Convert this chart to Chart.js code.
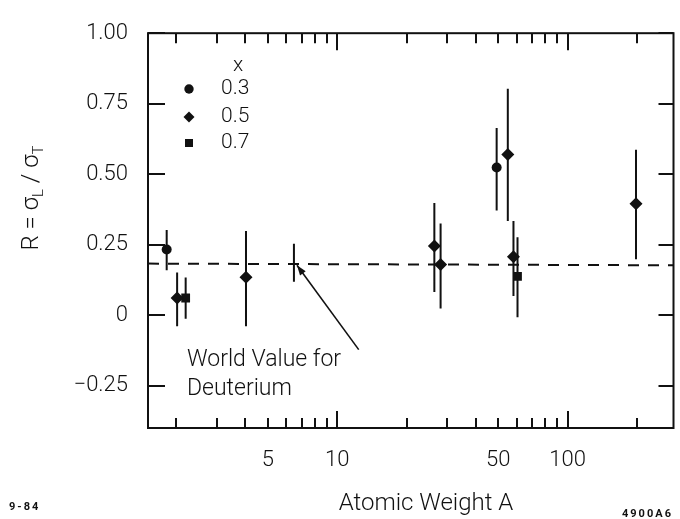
<!DOCTYPE html>
<html>
<head>
<meta charset="utf-8">
<script src="https://cdn.jsdelivr.net/npm/chart.js@4.4.1/dist/chart.umd.min.js"></script>
<style>
html, body { margin: 0; padding: 0; background: #fff; }
#wrap { width: 680px; height: 519px; }
</style>
</head>
<body>
<div id="wrap"><canvas id="chart" width="680" height="519"></canvas></div>
<script>
// R = sigma_L / sigma_T against atomic weight, one series per x bin
var a03 = [1.82, 49.2];
var r03 = [0.233, 0.524];
var lo03 = [0.159, 0.371];
var hi03 = [0.302, 0.664];

var a05 = [2.02, 4.02, 26.4, 28.1, 55.0, 58.2, 198];
var r05 = [0.061, 0.135, 0.245, 0.180, 0.570, 0.207, 0.395];
var lo05 = [-0.039, -0.039, 0.082, 0.024, 0.334, 0.068, 0.198];
var hi05 = [0.151, 0.299, 0.398, 0.325, 0.803, 0.334, 0.587];

var a07 = [2.20, 60.6];
var r07 = [0.061, 0.138];
var lo07 = [-0.013, -0.007];
var hi07 = [0.134, 0.276];

// world value for deuterium (bar + dashed level)
var worldA = [6.49];
var worldR = [0.18];
var worldLo = [0.119];
var worldHi = [0.253];
var worldLineA = [1.51, 288];
var worldLineR = [0.183, 0.177];

// arrow from the note to the world value bar
var arrowA = [12.4, 6.69];
var arrowR = [-0.122, 0.177];

var xLabelTicks = [5, 10, 50, 100];
var xMinorTicks = [2, 3, 4, 5, 6, 7, 8, 9, 20, 30, 40, 50, 60, 70, 80, 90, 200];
var xMajorTicks = [10, 100];
var yTicks = [-0.25, 0, 0.25, 0.5, 0.75, 1.0];
var yTickLabels = ['\u22120.25', '0', '0.25', '0.50', '0.75', '1.00'];
var legendLabels = ['0.3', '0.5', '0.7'];

var ink = '#111';
var fam = 'Roboto, "Liberation Sans", sans-serif';

function pts(xs, ys) {
	return xs.map(function(x, i){ return {x: x, y: ys[i]}; });
}

var frame = {
	id: 'frame',
	beforeDatasetsDraw: function(chart) {
		var ctx = chart.ctx, a = chart.chartArea;
		var xs = chart.scales.x, ys = chart.scales.y;
		ctx.save();
		ctx.strokeStyle = ink;
		ctx.lineWidth = 2;
		ctx.strokeRect(a.left, a.top, a.right - a.left, a.bottom - a.top);
		ctx.beginPath();
		xMinorTicks.concat(xMajorTicks).forEach(function(v){
			var px = Math.round(xs.getPixelForValue(v));
			var len = xMajorTicks.indexOf(v) >= 0 ? 17 : 10;
			ctx.moveTo(px, a.top); ctx.lineTo(px, a.top + len);
			ctx.moveTo(px, a.bottom); ctx.lineTo(px, a.bottom - len);
		});
		yTicks.forEach(function(v){
			var py = Math.round(ys.getPixelForValue(v));
			ctx.moveTo(a.left, py); ctx.lineTo(a.left + 17, py);
			ctx.moveTo(a.right, py); ctx.lineTo(a.right - 15, py);
		});
		ctx.stroke();

		// error bars
		ctx.beginPath();
		chart.data.datasets.forEach(function(ds){
			if (!ds.errLo) return;
			ds.data.forEach(function(p, i){
				var px = xs.getPixelForValue(p.x);
				ctx.moveTo(px, ys.getPixelForValue(ds.errLo[i]));
				ctx.lineTo(px, ys.getPixelForValue(ds.errHi[i]));
			});
		});
		ctx.stroke();
		ctx.restore();
	}
};

var notes = {
	id: 'notes',
	afterDraw: function(chart) {
		var ctx = chart.ctx;
		var xs = chart.scales.x, ys = chart.scales.y;
		ctx.save();
		ctx.fillStyle = ink;
		ctx.strokeStyle = ink;

		// legend
		ctx.font = '300 21px ' + fam;
		ctx.textAlign = 'center';
		ctx.textBaseline = 'middle';
		ctx.fillText('x', 238, 66);
		ctx.textAlign = 'left';
		var ly = [89, 117, 143];
		legendLabels.forEach(function(t, i){ ctx.fillText(t, 221, ly[i]); });
		ctx.beginPath(); ctx.arc(189, ly[0], 4.7, 0, Math.PI * 2); ctx.fill();
		ctx.beginPath();
		ctx.moveTo(189, ly[1] - 5.5); ctx.lineTo(194.5, ly[1]);
		ctx.lineTo(189, ly[1] + 5.5); ctx.lineTo(183.5, ly[1]);
		ctx.closePath(); ctx.fill();
		ctx.fillRect(185, ly[2] - 4, 8, 8);

		// note and arrow
		ctx.font = '300 23px ' + fam;
		ctx.fillText('World Value for', 187, 360);
		ctx.fillText('Deuterium', 187, 389);
		var x0 = xs.getPixelForValue(arrowA[0]), y0 = ys.getPixelForValue(arrowR[0]);
		var x1 = xs.getPixelForValue(arrowA[1]), y1 = ys.getPixelForValue(arrowR[1]);
		ctx.lineWidth = 1.6;
		ctx.beginPath(); ctx.moveTo(x0, y0); ctx.lineTo(x1, y1); ctx.stroke();
		var ang = Math.atan2(y1 - y0, x1 - x0);
		ctx.beginPath();
		ctx.moveTo(x1, y1);
		ctx.lineTo(x1 - 10 * Math.cos(ang) + 3.5 * Math.sin(ang), y1 - 10 * Math.sin(ang) - 3.5 * Math.cos(ang));
		ctx.lineTo(x1 - 10 * Math.cos(ang) - 3.5 * Math.sin(ang), y1 - 10 * Math.sin(ang) + 3.5 * Math.cos(ang));
		ctx.closePath(); ctx.fill();

		// x title
		ctx.font = '300 24px ' + fam;
		ctx.textAlign = 'center';
		ctx.fillText('Atomic Weight A', 426, 504);

		// y title with subscripts
		var parts = [['R = \u03c3', 24, 0], ['L', 15, 7], [' / \u03c3', 24, 0], ['T', 15, 7]];
		var total = 0;
		parts.forEach(function(p){ ctx.font = '300 ' + p[1] + 'px ' + fam; p.push(ctx.measureText(p[0]).width); total += p[3]; });
		ctx.translate(32, 198);
		ctx.rotate(-Math.PI / 2);
		ctx.textAlign = 'left';
		var cx = -total / 2;
		parts.forEach(function(p){
			ctx.font = '300 ' + p[1] + 'px ' + fam;
			ctx.fillText(p[0], cx, p[2]);
			cx += p[3];
		});
		ctx.setTransform(1, 0, 0, 1, 0, 0);

		// figure codes
		ctx.font = 'bold 11px ' + fam;
		ctx.textAlign = 'left';
		ctx.letterSpacing = '2px';
		ctx.fillText('9-84', 9, 507);
		ctx.fillText('4900A6', 622, 514);
		ctx.restore();
	}
};

var mychart = document.getElementById('chart');
new Chart(mychart, {
	type: 'scatter',
	data: {
		datasets: [
			{
				label: '0.3',
				data: pts(a03, r03),
				errLo: lo03, errHi: hi03,
				pointStyle: 'circle',
				pointRadius: 5,
				backgroundColor: ink,
				borderColor: ink,
				borderWidth: 0
			},
			{
				label: '0.5',
				data: pts(a05, r05),
				errLo: lo05, errHi: hi05,
				pointStyle: 'rectRot',
				pointRadius: 6.5,
				backgroundColor: ink,
				borderColor: ink,
				borderWidth: 0
			},
			{
				label: '0.7',
				data: pts(a07, r07),
				errLo: lo07, errHi: hi07,
				pointStyle: 'rect',
				pointRadius: 6.2,
				backgroundColor: ink,
				borderColor: ink,
				borderWidth: 0
			},
			{
				label: 'world',
				data: pts(worldA, worldR),
				errLo: worldLo, errHi: worldHi,
				pointRadius: 0
			},
			{
				label: 'world level',
				data: pts(worldLineA, worldLineR),
				showLine: true,
				pointRadius: 0,
				borderColor: ink,
				borderWidth: 2,
				borderDash: [11, 9]
			}
		]
	},
	options: {
		responsive: false,
		animation: false,
		layout: { padding: { top: 25, right: 3, left: 0, bottom: 0 } },
		plugins: {
			legend: { display: false },
			tooltip: { enabled: false }
		},
		scales: {
			x: {
				type: 'logarithmic',
				min: 1.51,
				max: 288,
				grid: { display: false, drawTicks: false },
				border: { display: false },
				afterBuildTicks: function(s){ s.ticks = xLabelTicks.map(function(v){ return {value: v}; }); },
				afterFit: function(s){ s.height = 91; },
				ticks: {
					autoSkip: false,
					maxRotation: 0,
					padding: 19,
					color: ink,
					font: { family: fam, size: 22, weight: '300' },
					callback: function(v){ return String(v); }
				}
			},
			y: {
				min: -0.4,
				max: 1.0,
				grid: { display: false, drawTicks: false },
				border: { display: false },
				afterBuildTicks: function(s){ s.ticks = yTicks.map(function(v){ return {value: v}; }); },
				afterFit: function(s){ s.width = 148; },
				ticks: {
					autoSkip: false,
					padding: 20,
					color: ink,
					font: { family: fam, size: 22, weight: '300' },
					callback: function(v, i){ return yTickLabels[i]; }
				}
			}
		}
	},
	plugins: [frame, notes]
});
</script>
</body>
</html>
